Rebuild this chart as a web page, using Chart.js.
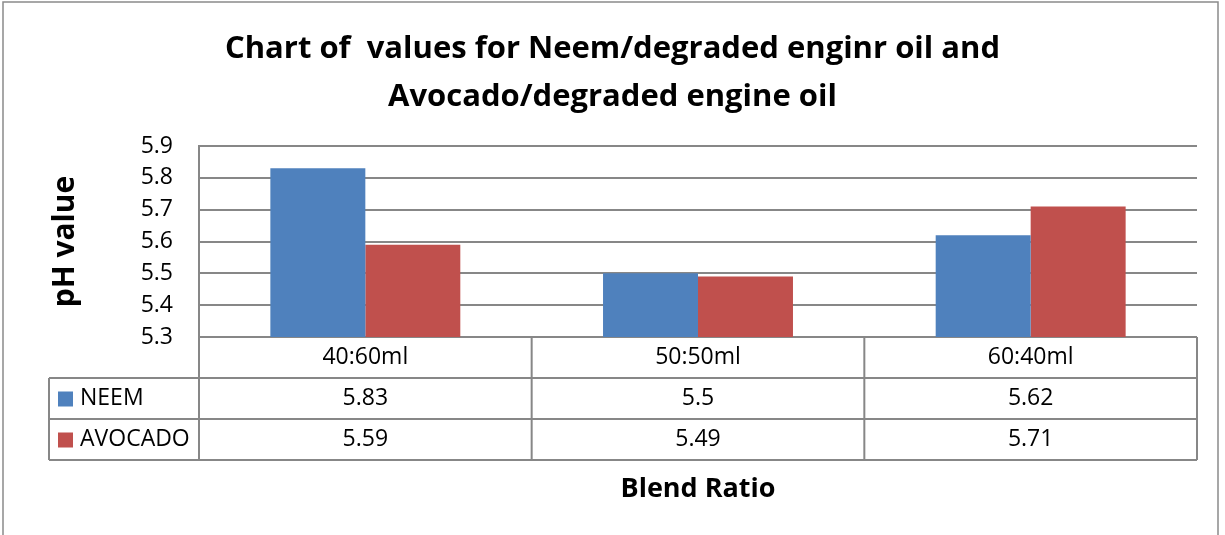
<!DOCTYPE html>
<html>
<head>
<meta charset="utf-8">
<script src="https://cdn.jsdelivr.net/npm/chart.js@4.4.1/dist/chart.umd.min.js"></script>
<style>
  html, body { margin: 0; padding: 0; background: #fff; }
  #wrap { width: 1225px; height: 535px; position: relative; }
</style>
</head>
<body>
<div id="wrap"><canvas id="phChart"></canvas></div>
<script>
// chart data
const blendRatios = ['40:60ml', '50:50ml', '60:40ml'];
const neemValues = [5.83, 5.5, 5.62];
const avocadoValues = [5.59, 5.49, 5.71];
const seriesNames = ['NEEM', 'AVOCADO'];
const yTicks = [5.3, 5.4, 5.5, 5.6, 5.7, 5.8, 5.9];
const titleLines = ['Chart of  values for Neem/degraded enginr oil and', 'Avocado/degraded engine oil'];

const FONT = "'Open Sans', 'Noto Sans', sans-serif";
const GRID = '#878787';

// border round the whole chart
const frame = {
    id: 'frame',
    beforeDraw(chart) {
        const c = chart.ctx;
        c.save();
        c.strokeStyle = '#8a8a8a';
        c.lineWidth = 1.5;
        c.strokeRect(3, 2, 1215, 540);
        c.restore();
    }
};

// Excel style data table under the plot
const dataTable = {
    id: 'dataTable',
    afterDraw(chart) {
        const c = chart.ctx;
        const area = chart.chartArea;
        const x = chart.scales.x;
        const colW = (area.right - area.left) / blendRatios.length;
        const rowH = 41;
        const top = area.bottom;
        const tableLeft = 49;
        const rows = [neemValues, avocadoValues];
        const colors = chart.data.datasets.map(d => d.backgroundColor);

        c.save();
        c.strokeStyle = GRID;
        c.lineWidth = 2;
        c.beginPath();
        c.moveTo(tableLeft, top + rowH); c.lineTo(area.right, top + rowH);
        c.moveTo(tableLeft, top + 2 * rowH); c.lineTo(area.right, top + 2 * rowH);
        c.moveTo(tableLeft, top + 3 * rowH); c.lineTo(area.right, top + 3 * rowH);
        for (let i = 0; i <= blendRatios.length; i++) {
            const px = area.left + i * colW;
            c.moveTo(px, top); c.lineTo(px, top + 3 * rowH);
        }
        c.moveTo(tableLeft, top + rowH); c.lineTo(tableLeft, top + 3 * rowH);
        c.stroke();

        c.fillStyle = '#000';
        c.font = '23px ' + FONT;
        c.textAlign = 'center';
        c.textBaseline = 'middle';
        blendRatios.forEach((lab, i) => {
            const cx = x.getPixelForValue(i);
            c.fillText(lab, cx, top + rowH / 2);
            rows.forEach((vals, r) => {
                c.fillText(String(vals[i]), cx, top + rowH * (r + 1.5));
            });
        });

        // series keys
        c.textAlign = 'left';
        seriesNames.forEach((name, r) => {
            const cy = top + rowH * (r + 1.5);
            c.fillStyle = colors[r];
            c.fillRect(tableLeft + 9, cy - 7, 15, 15);
            c.fillStyle = '#000';
            c.fillText(name, tableLeft + 31, cy);
        });

        // x axis title
        c.font = 'bold 27px ' + FONT;
        c.textAlign = 'center';
        c.fillText('Blend Ratio', (area.left + area.right) / 2, 489);
        c.restore();
    }
};

const chart = new Chart(document.getElementById('phChart'), {
    type: 'bar',
    data: {
        labels: blendRatios,
        datasets: [
            { label: seriesNames[0], data: neemValues, backgroundColor: '#4F81BD' },
            { label: seriesNames[1], data: avocadoValues, backgroundColor: '#C0504D' }
        ]
    },
    options: {
        responsive: true,
        maintainAspectRatio: false,
        animation: false,
        events: [],
        categoryPercentage: 0.571,
        barPercentage: 1,
        layout: { padding: { top: 0, left: 28, right: 28, bottom: 198 } },
        plugins: {
            legend: { display: false },
            tooltip: { enabled: false },
            title: {
                display: true,
                text: titleLines,
                color: '#000',
                font: { family: FONT, size: 31, weight: 'bold', lineHeight: 1.55 },
                padding: { top: 25, bottom: 25 }
            }
        },
        scales: {
            x: { display: false },
            y: {
                min: yTicks[0],
                max: yTicks[yTicks.length - 1],
                afterBuildTicks(scale) {
                    scale.ticks = yTicks.map(v => ({ value: v }));
                },
                afterFit(scale) { scale.width = 171; },
                border: { color: GRID, width: 2 },
                grid: { color: GRID, lineWidth: 2, drawTicks: false },
                ticks: {
                    color: '#000',
                    padding: 26,
                    font: { family: FONT, size: 23 },
                    callback: v => Number(v).toFixed(1)
                },
                title: {
                    display: true,
                    text: 'pH value',
                    color: '#000',
                    font: { family: FONT, size: 30, weight: 'bold', lineHeight: 1.2 },
                    padding: { top: 19 }
                }
            }
        }
    },
    plugins: [frame, dataTable]
});
</script>
</body>
</html>
